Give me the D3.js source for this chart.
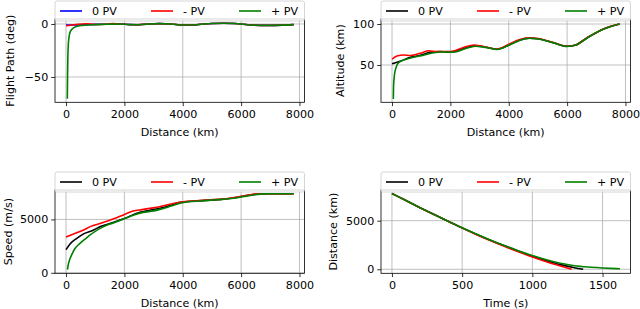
<!DOCTYPE html>
<html><head><meta charset="utf-8">
<script src="https://cdn.jsdelivr.net/npm/d3@7"></script>
<style>
body{margin:0;background:#fff;}
text{font-family:"DejaVu Sans",sans-serif;}
</style></head>
<body><svg id="c" width="640" height="309"></svg>
<script>
// ---------------- data ----------------
const seriesLabels = ["0 PV", "- PV", "+ PV"];
const distTicks = [0, 2000, 4000, 6000, 8000];
const timeTicks = [0, 500, 1000, 1500];
const fpTicks = [-50, 0];
const altTicks = [50, 100];
const speedTicks = [0, 5000];
const rangeTicks = [0, 5000];

// Flight path (deg) vs distance (km)
const fpZero = [[0,-1.0],[300,-1.0],[600,-0.6],[1000,-0.4],[1400,-0.2],[1800,0.1],[2200,-0.6],[2500,-0.7],[2850,0],[3200,0.3],[3600,0],[4000,-1.0],[4300,-1.0],[4700,0],[5000,0.5],[5400,0.7],[5800,0.4],[6000,0],[6400,-1.0],[6900,-1.3],[7400,-1.1],[7800,-0.6]];
const fpMinus = [[0,-1.6],[150,-1.2],[400,-0.3],[700,0.2],[1000,-0.5],[1300,-0.3],[1600,0.3],[2000,-0.3],[2400,-0.8],[2850,0],[3200,0.3],[3600,0],[4000,-1.0],[4300,-1.0],[4700,0],[5000,0.5],[5400,0.7],[5800,0.4],[6000,0],[6400,-1.0],[6900,-1.3],[7400,-1.1],[7800,-0.6]];
const fpPlus = [[45,-70.5],[52,-50],[62,-32],[75,-21],[95,-14],[120,-9.5],[160,-6.5],[220,-4.5],[300,-3],[400,-2.1],[550,-1.4],[750,-0.9],[1000,-0.6],[1400,-0.3],[1800,0],[2200,-0.6],[2500,-0.7],[2850,0],[3200,0.3],[3600,0],[4000,-1.0],[4300,-1.0],[4700,0],[5000,0.5],[5400,0.7],[5800,0.4],[6000,0],[6400,-1.0],[6900,-1.3],[7400,-1.1],[7800,-0.6]];

// Altitude (km) vs distance (km)
const altZero = [[0,51.5],[300,55],[630,59.4],[970,61.8],[1310,65.5],[1650,66.5],[1900,65.8],[2100,66.5],[2450,70],[2800,73.3],[3100,72.5],[3600,69.2],[4000,74.5],[4350,80],[4700,82.8],[5000,82],[5500,77.5],[6000,72.8],[6300,74.5],[6700,83.5],[7250,94],[7800,100]];
const altMinus = [[0,57],[170,61],[400,62.2],[630,61.5],[970,64.3],[1260,67.3],[1550,66.3],[2000,66.3],[2450,71.3],[2800,74.4],[3100,72.8],[3600,69.5],[4000,75.2],[4350,80.8],[4700,83.3],[5000,82.3],[5500,77.7],[6000,72.8],[6300,74.5],[6700,83.5],[7250,94],[7800,100]];
const altPlus = [[45,8.5],[50,20],[57,27.7],[75,35],[91,40],[130,46],[171,50],[250,53.5],[400,56],[740,59.4],[1080,62],[1430,65],[1710,65.8],[2110,65.5],[2510,69.8],[2850,72.8],[3200,71.5],[3600,68.9],[4000,74],[4350,79.7],[4700,82.6],[5000,81.8],[5500,77.3],[6000,72.6],[6300,74.3],[6700,83.3],[7250,93.8],[7800,100]];

// Speed (m/s) vs distance (km)
const spdZero = [[0,2170],[150,2750],[357,3210],[600,3650],[930,3990],[1200,4350],[1500,4620],[1800,4900],[2073,5150],[2300,5450],[2531,5660],[2900,5880],[3218,6040],[3600,6330],[3905,6600],[4300,6700],[4800,6780],[5200,6840],[5600,6960],[6000,7150],[6400,7340],[6800,7400],[7300,7400],[7800,7400]];
const spdMinus = [[0,3360],[300,3680],[584,3990],[850,4350],[1157,4620],[1450,4880],[1730,5150],[2000,5470],[2302,5780],[2600,5920],[2875,6040],[3200,6180],[3447,6350],[3750,6530],[4020,6660],[4500,6750],[5165,6880],[5600,6980],[5966,7140],[6300,7300],[6539,7370],[7000,7400],[7800,7400]];
const spdPlus = [[48,310],[80,800],[120,1200],[185,1630],[300,2250],[470,2735],[650,3150],[814,3520],[1000,3880],[1272,4300],[1500,4560],[1730,4775],[2073,5150],[2300,5400],[2645,5660],[3000,5800],[3218,5940],[3600,6250],[3905,6510],[4200,6650],[4593,6730],[5200,6850],[5738,6980],[6100,7150],[6425,7290],[6800,7390],[7300,7400],[7800,7400]];

// Distance (km) vs time (s)
const rngZero = [[0,7800],[100,7070],[200,6340],[300,5630],[400,4940],[500,4260],[600,3610],[700,2990],[800,2410],[900,1860],[1000,1350],[1100,890],[1200,480],[1300,160],[1362,0]];
const rngMinus = [[0,7800],[100,7070],[200,6340],[300,5630],[400,4940],[500,4250],[600,3590],[700,2960],[800,2360],[900,1800],[1000,1270],[1100,780],[1200,340],[1280,10]];
const rngPlus = [[0,7800],[100,7070],[200,6340],[300,5640],[400,4950],[500,4270],[600,3630],[700,3020],[800,2450],[900,1920],[1000,1420],[1100,980],[1200,620],[1300,370],[1400,230],[1500,140],[1624,50]];

// ---------------- layout ----------------
const svg = d3.select("#c");
const FS = 11.1;
const cols = [[55, 304.5], [381, 630.5]];
const rows = [[19, 102.3], [190, 273.3]];

const panels = [
  {c:0, r:0, xd:[-378,8172], yd:[-73.9,4.7], xt:distTicks, yt:fpTicks, xl:"Distance (km)", yl:"Flight Path (deg)", ylx:10,
   series:[fpZero,fpMinus,fpPlus], colors:["#0000ff","#ff0000","#008000"]},
  {c:1, r:0, xd:[-378,8172], yd:[4.5,106.1], xt:distTicks, yt:altTicks, xl:"Distance (km)", yl:"Altitude (km)", ylx:340,
   series:[altZero,altMinus,altPlus], colors:["#000000","#ff0000","#008000"]},
  {c:0, r:1, xd:[-378,8172], yd:[-45,7755], xt:distTicks, yt:speedTicks, xl:"Distance (km)", yl:"Speed (m/s)", ylx:8,
   series:[spdZero,spdMinus,spdPlus], colors:["#000000","#ff0000","#008000"]},
  {c:1, r:1, xd:[-78,1699], yd:[-412,8158], xt:timeTicks, yt:rangeTicks, xl:"Time (s)", yl:"Distance (km)", ylx:333,
   series:[rngZero,rngMinus,rngPlus], colors:["#000000","#ff0000","#008000"]}
];

const fmt = d => (d < 0 ? "\u2212" + Math.abs(d) : String(d));

panels.forEach((p, i) => {
  const [x0, x1] = cols[p.c], [y0, y1] = rows[p.r];
  const x = d3.scaleLinear().domain(p.xd).range([x0, x1]);
  const y = d3.scaleLinear().domain(p.yd).range([y1, y0]);
  const g = svg.append("g");

  // grid
  g.append("g").selectAll("line").data(p.xt).join("line")
    .attr("x1", d => x(d)).attr("x2", d => x(d)).attr("y1", y0).attr("y2", y1)
    .attr("stroke", "#b0b0b0").attr("stroke-width", 0.8);
  g.append("g").selectAll("line").data(p.yt).join("line")
    .attr("y1", d => y(d)).attr("y2", d => y(d)).attr("x1", x0).attr("x2", x1)
    .attr("stroke", "#b0b0b0").attr("stroke-width", 0.8);

  // clip
  const cid = "clip" + i;
  svg.append("clipPath").attr("id", cid).append("rect")
    .attr("x", x0).attr("y", y0).attr("width", x1 - x0).attr("height", y1 - y0);

  const line = d3.line().x(d => x(d[0])).y(d => y(d[1])).curve(d3.curveMonotoneX);
  const lg = g.append("g").attr("clip-path", `url(#${cid})`);
  p.series.forEach((s, k) => {
    lg.append("path").datum(s).attr("d", line).attr("fill", "none")
      .attr("stroke", p.colors[k]).attr("stroke-width", 1.6).attr("stroke-linejoin", "round");
  });

  // frame
  g.append("rect").attr("x", x0).attr("y", y0).attr("width", x1 - x0).attr("height", y1 - y0)
    .attr("fill", "none").attr("stroke", "#000").attr("stroke-width", 0.8);

  // axes
  const ax = g.append("g").attr("transform", `translate(0,${y1})`)
    .call(d3.axisBottom(x).tickValues(p.xt).tickFormat(fmt).tickSize(3.8).tickPadding(4.5));
  const ay = g.append("g").attr("transform", `translate(${x0},0)`)
    .call(d3.axisLeft(y).tickValues(p.yt).tickFormat(fmt).tickSize(3.8).tickPadding(3));
  [ax, ay].forEach(a => {
    a.select(".domain").remove();
    a.selectAll("line").attr("stroke", "#000").attr("stroke-width", 0.8);
    a.selectAll("text").attr("font-size", FS).attr("fill", "#000").attr("font-family", "DejaVu Sans");
  });

  // labels
  g.append("text").attr("x", (x0 + x1) / 2).attr("y", y1 + 34)
    .attr("text-anchor", "middle").attr("font-size", FS).text(p.xl);
  g.append("text").attr("transform", `translate(${p.ylx},${(y0 + y1) / 2}) rotate(-90)`)
    .attr("text-anchor", "middle").attr("dominant-baseline", "central").attr("font-size", FS).text(p.yl);

  // legend
  const ly = y0 - 18, lh = 20;
  const leg = g.append("g");
  leg.append("rect").attr("x", x0).attr("y", ly).attr("width", x1 - x0).attr("height", lh)
    .attr("rx", 2).attr("fill", "#fff").attr("fill-opacity", 0.8)
    .attr("stroke", "#cccccc").attr("stroke-width", 0.8);
  const offs = [5, 96, 184];
  seriesLabels.forEach((lab, k) => {
    const hx = x0 + offs[k];
    leg.append("line").attr("x1", hx).attr("x2", hx + 22).attr("y1", ly + lh / 2).attr("y2", ly + lh / 2)
      .attr("stroke", p.colors[k]).attr("stroke-width", 1.6);
    leg.append("text").attr("x", hx + 32).attr("y", ly + lh / 2).attr("dominant-baseline", "central")
      .attr("font-size", FS).text(lab);
  });
});
</script></body></html>
